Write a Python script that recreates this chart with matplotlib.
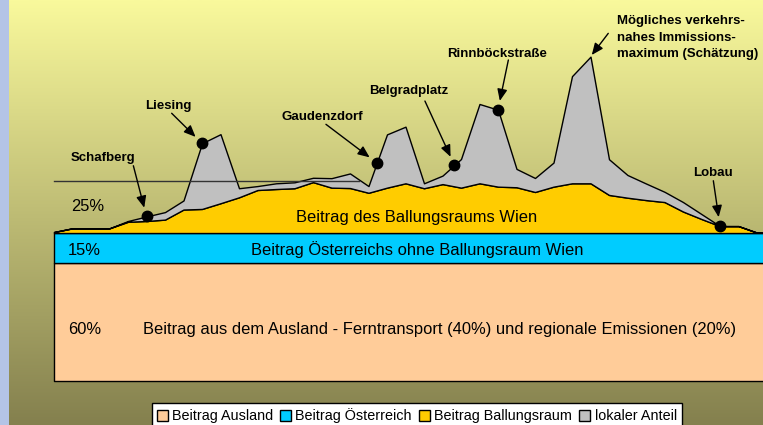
import matplotlib
matplotlib.use('Agg')
import matplotlib.pyplot as plt
import numpy as np
from matplotlib.patches import Patch

plt.rcParams['font.family'] = ['Liberation Sans', 'DejaVu Sans']

# Messpunkte entlang des Querschnitts (Index)
positions = np.arange(40)
ausland = [60] * 40
oesterreich = [15] * 40
ballungsraum = [0.5, 2.4, 2.4, 2.4, 5.7, 6.1, 6.8, 11.9, 12.2, 15.1,
                18.1, 21.8, 22.3, 22.7, 25.8, 23.0, 22.8, 20.4, 23.0, 25.2,
                22.7, 24.8, 23.0, 25.2, 23.5, 23.2, 20.8, 23.5, 25.2, 25.2,
                19.3, 17.9, 16.7, 15.7, 10.9, 7.1, 3.5, 3.5, 0.2, 0]
lokal = [0, 0, 0, 0, 0.4, 2.3, 3.8, 4.6, 33.3, 35.0,
         4.6, 2.0, 2.9, 3.0, 2.2, 4.8, 7.4, 3.4, 27.0, 28.7,
         2.5, 4.3, 14.5, 40.2, 39.0, 9.3, 7.1, 12.2, 54.3, 64.2,
         18.1, 11.5, 8.4, 5.2, 4.8, 2.5, 0, 0, 0, 0]

series_labels = ['Beitrag Ausland', 'Beitrag Österreich',
                 'Beitrag Ballungsraum', 'lokaler Anteil']
series_colors = ['#FFCC99', '#00CCFF', '#FFCC00', '#C0C0C0']

stations = ['Schafberg', 'Liesing', 'Gaudenzdorf', 'Belgradplatz',
            'Rinnböckstraße', 'Lobau']
station_pos = [5, 8, 17.45, 21.64, 24, 36]
# label (x, baseline), arrow tail
station_text = [(2.64, 111.5), (6.19, 138.1), (14.53, 132.1),
                (19.15, 145.3), (23.97, 164.0), (35.62, 103.9)]
station_tail = [(4.29, 109.1), (6.36, 135.7), (14.70, 130.1),
                (20.05, 141.9), (24.56, 162.7), (35.64, 101.5)]

max_lines = ['Mögliches verkehrs-', 'nahes Immissions-', 'maximum (Schätzung)']
max_pos = 29

total = np.sum([ausland, oesterreich, ballungsraum, lokal], axis=0)
station_y = np.interp(station_pos, positions, total)

fig = plt.figure(figsize=(7.63, 4.25), dpi=100)
ax = fig.add_axes([0, 0, 1, 1])
xmin, xmax = -54 / 18.5, 709 / 18.5
ymin, ymax = -44 / 1.973, 381 / 1.973
ax.set_xlim(xmin, xmax)
ax.set_ylim(ymin, ymax)
ax.axis('off')

# Hintergrund-Verlauf
top = np.array([249, 249, 156]) / 255
bottom = np.array([132, 128, 78]) / 255
t = np.linspace(0, 1, 256).reshape(-1, 1, 1)
grad = top * (1 - t) + bottom * t
ax.imshow(grad, extent=[xmin, xmax, ymin, ymax], aspect='auto',
          origin='upper', zorder=0)
ax.axvspan(xmin, xmin + 9 / 18.5, color='#B4C4E6', zorder=1, lw=0)

ax.stackplot(positions, ausland, oesterreich, ballungsraum, lokal,
             colors=series_colors, edgecolor='black', linewidth=1, zorder=2)

ax.plot([0, 16.5], [101.3, 101.3], color='#333333', lw=1, zorder=3)

ax.plot(station_pos, station_y, 'o', color='black', ms=7.5, zorder=5)

for name, (tx, ty), tail, sx, sy in zip(stations, station_text, station_tail,
                                         station_pos, station_y):
    ax.text(tx, ty, name, ha='center', va='baseline', fontsize=9.5,
            fontweight='bold', zorder=6)
    ax.annotate('', xy=(sx, sy), xytext=tail,
                arrowprops=dict(arrowstyle='-|>,head_length=0.7,head_width=0.3',
                                color='black', lw=1, shrinkA=0, shrinkB=6.5),
                zorder=6)

for k, line in enumerate(max_lines):
    ax.text(30.45, 180.7 - 8.35 * k, line, ha='left', va='baseline',
            fontsize=9.5, fontweight='bold', zorder=6)
ax.annotate('', xy=(max_pos, total[max_pos]), xytext=(29.96, 176.2),
            arrowprops=dict(arrowstyle='-|>,head_length=0.7,head_width=0.3',
                            color='black', lw=1, shrinkA=0, shrinkB=1.5),
            zorder=6)

# Beschriftung der Schichten
fs = 11.85
ax.text(0.90, 86.3, '25%', fontsize=fs, va='baseline', zorder=6)
ax.text(0.74, 63.9, '15%', fontsize=fs, va='baseline', zorder=6)
ax.text(0.74, 23.7, '60%', fontsize=fs, va='baseline', zorder=6)
ax.text(19.62, 80.6, 'Beitrag des Ballungsraums Wien', fontsize=fs,
        ha='center', va='baseline', zorder=6)
ax.text(19.63, 63.9, 'Beitrag Österreichs ohne Ballungsraum Wien', fontsize=fs,
        ha='center', va='baseline', zorder=6)
ax.text(4.83, 23.7, 'Beitrag aus dem Ausland - Ferntransport (40%) und '
        'regionale Emissionen (20%)', fontsize=fs, va='baseline', zorder=6)

handles = [Patch(facecolor=c, edgecolor='black', label=l)
           for c, l in zip(series_colors, series_labels)]
leg = ax.legend(handles=handles, loc='upper left',
                bbox_to_anchor=(151.7 / 763, 1 - 403.3 / 425), ncol=4,
                frameon=True, fancybox=False, edgecolor='black',
                fontsize=10.4, handlelength=0.75, handleheight=0.75,
                handletextpad=0.3, columnspacing=0.5, borderpad=0.35,
                borderaxespad=0, framealpha=1)
leg.get_frame().set_linewidth(1)
leg.set_zorder(7)

fig.savefig('out.png', dpi=100)
